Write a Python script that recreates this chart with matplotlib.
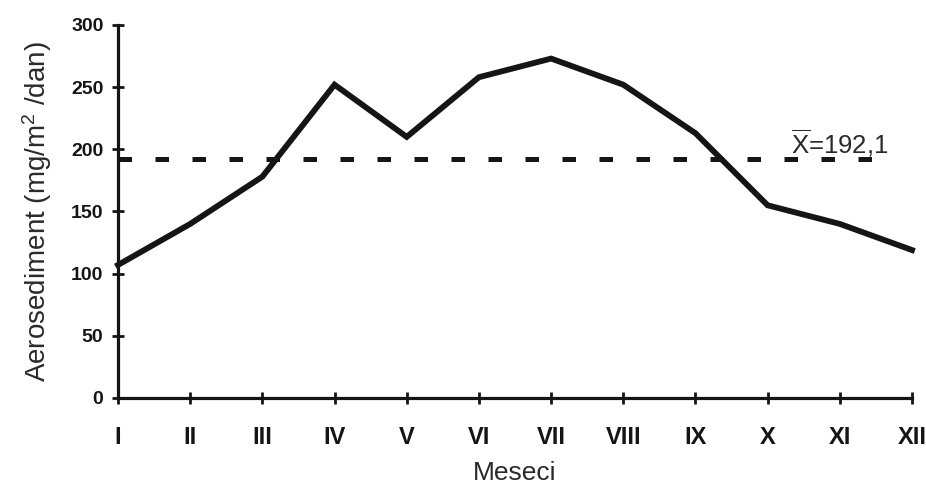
import matplotlib
matplotlib.use("Agg")
import matplotlib.pyplot as plt

months = ['I', 'II', 'III', 'IV', 'V', 'VI', 'VII', 'VIII', 'IX', 'X', 'XI', 'XII']
values = [107, 140, 178, 252, 210, 258, 273, 252, 213, 155, 140, 119]
mean_value = 192.1
y_ticks = [0, 50, 100, 150, 200, 250, 300]

plt.rcParams['font.family'] = ['Liberation Sans', 'DejaVu Sans']
plt.rcParams['mathtext.fontset'] = 'custom'
plt.rcParams['mathtext.rm'] = 'Liberation Sans'
plt.rcParams['mathtext.it'] = 'Liberation Sans:italic'
plt.rcParams['mathtext.bf'] = 'Liberation Sans:bold'

ink = '#151515'
fig = plt.figure(figsize=(9.26, 4.83), dpi=100)
ax = fig.add_axes([118/926, 1-398/483, 794/926, 373/483])

x = list(range(len(months)))
ax.plot(x, values, color=ink, lw=4.2, solid_joinstyle='miter', clip_on=False, zorder=3)
ax.plot([0, 10.69], [mean_value, mean_value], color=ink, lw=3.6,
        linestyle=(0, (2.7, 4.7)), clip_on=False, zorder=2)

ax.annotate(r'$\overline{\mathrm{X}}$=192,1', xy=(9.33, mean_value), xytext=(0, 4),
            textcoords='offset points', ha='left', va='baseline', fontsize=18.5, color='#2a2a2a')

ax.set_xlim(0, 11)
ax.set_ylim(0, 300)
ax.set_xticks(x)
ax.set_xticklabels(months)
ax.set_yticks(y_ticks)
ax.set_yticklabels([str(v) for v in y_ticks])

for s in ['top', 'right']:
    ax.spines[s].set_visible(False)
for s in ['left', 'bottom']:
    ax.spines[s].set_linewidth(2.3)
    ax.spines[s].set_color(ink)

ax.tick_params(axis='both', direction='inout', length=8, width=2, color=ink)
ax.tick_params(axis='y', pad=6.5)
ax.tick_params(axis='x', pad=16)
for lab in ax.get_yticklabels():
    lab.set_fontweight('bold'); lab.set_fontsize(14); lab.set_color(ink)
for lab in ax.get_xticklabels():
    lab.set_family(['Liberation Sans Narrow', 'Liberation Sans'])
    lab.set_fontweight('bold'); lab.set_fontsize(17); lab.set_color(ink)

ax.set_ylabel(r'Aerosediment (mg/m$^2$ /dan)', fontsize=20, color='#2a2a2a', va='center')
ax.yaxis.set_label_coords(-0.102, 0.5)
ax.set_xlabel('Meseci', fontsize=19, color='#2a2a2a', va='top')
ax.xaxis.set_label_coords(0.5, -0.168)

fig.savefig('out.png', dpi=100, facecolor='white')
